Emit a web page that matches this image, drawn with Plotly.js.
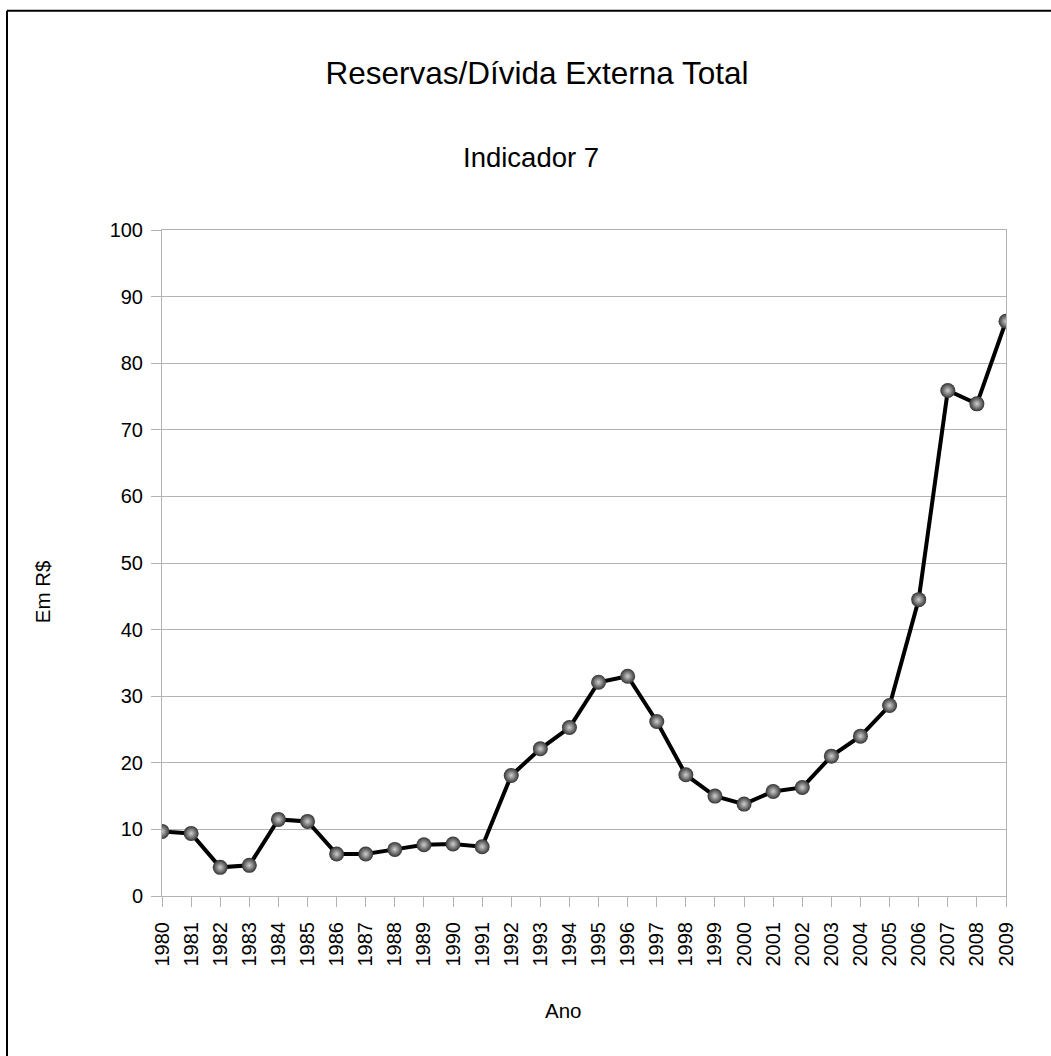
<!DOCTYPE html>
<html>
<head>
<meta charset="utf-8">
<script src="https://cdn.plot.ly/plotly-3.0.1.min.js"></script>
<style>
  html, body { margin: 0; padding: 0; background: #ffffff; }
  #chart { width: 1051px; height: 1056px; }
</style>
</head>
<body>
<div id="chart"></div>
<script>
// Indicador 7 – Reservas / Dívida Externa Total, 1980–2009
const anos = ['1980','1981','1982','1983','1984','1985','1986','1987','1988','1989',
              '1990','1991','1992','1993','1994','1995','1996','1997','1998','1999',
              '2000','2001','2002','2003','2004','2005','2006','2007','2008','2009'];
const valores = [9.7, 9.4, 4.3, 4.6, 11.5, 11.2, 6.3, 6.3, 7.0, 7.7,
                 7.8, 7.4, 18.1, 22.1, 25.3, 32.1, 33.0, 26.2, 18.2, 15.0,
                 13.8, 15.7, 16.3, 21.0, 24.0, 28.6, 44.5, 75.9, 73.9, 86.3];
const yTicks = [0, 10, 20, 30, 40, 50, 60, 70, 80, 90, 100];

const fonte = 'Liberation Sans, Arial, sans-serif';
const cinzaGrade = '#b3b3b3';

const serie = {
  x: anos,
  y: valores,
  type: 'scatter',
  mode: 'lines+markers',
  line: { color: '#000000', width: 4 },
  marker: {
    size: 15,
    color: '#333333',
    gradient: { type: 'radial', color: '#cfcfcf' },
    line: { width: 0 }
  },
  hoverinfo: 'x+y'
};

const layout = {
  width: 1051,
  height: 1056,
  margin: { l: 162, r: 45, t: 230, b: 160, pad: 0 },
  paper_bgcolor: '#ffffff',
  plot_bgcolor: '#ffffff',
  showlegend: false,
  font: { family: fonte, color: '#000000', size: 20 },
  title: {
    text: 'Reservas/Dívida Externa Total',
    font: { family: fonte, size: 31.5, color: '#000000' },
    xref: 'container', x: 537 / 1051, xanchor: 'center',
    yref: 'container', y: 1 - 73 / 1056, yanchor: 'middle'
  },
  xaxis: {
    type: 'category',
    range: [0, anos.length - 1],
    tickangle: -90,
    ticks: 'outside', ticklen: 10, tickcolor: cinzaGrade, tickwidth: 1,
    ticklabelstandoff: 7,
    showgrid: false,
    showline: true, linecolor: cinzaGrade, linewidth: 1, mirror: true,
    tickfont: { family: fonte, size: 20, color: '#000000' },
    zeroline: false,
    fixedrange: true
  },
  yaxis: {
    range: [0, 100],
    tickvals: yTicks,
    ticktext: yTicks.map(String),
    ticks: 'outside', ticklen: 10, tickcolor: cinzaGrade, tickwidth: 1,
    ticklabelstandoff: 4,
    showgrid: true, gridcolor: cinzaGrade, gridwidth: 1,
    showline: true, linecolor: cinzaGrade, linewidth: 1, mirror: true,
    tickfont: { family: fonte, size: 20, color: '#000000' },
    zeroline: false,
    fixedrange: true
  },
  annotations: [
    {
      text: 'Indicador 7',
      xref: 'paper', yref: 'paper',
      x: (531 - 162) / 844, y: (895.6 - 158) / 665.6,
      xanchor: 'center', yanchor: 'middle',
      showarrow: false,
      font: { family: fonte, size: 27.5, color: '#000000' }
    },
    {
      text: 'Ano',
      xref: 'paper', yref: 'paper',
      x: (563 - 162) / 844, y: (895.6 - 1010) / 665.6,
      xanchor: 'center', yanchor: 'middle',
      showarrow: false,
      font: { family: fonte, size: 20.5, color: '#000000' }
    },
    {
      text: 'Em R$',
      xref: 'paper', yref: 'paper',
      x: (42 - 162) / 844, y: (895.6 - 592) / 665.6,
      xanchor: 'center', yanchor: 'middle',
      textangle: -90,
      showarrow: false,
      font: { family: fonte, size: 20.5, color: '#000000' }
    }
  ],
  shapes: [
    // outer frame edges (left and top)
    { type: 'line', xref: 'paper', yref: 'paper',
      x0: (7 - 162) / 844, x1: (7 - 162) / 844,
      y0: (895.6 - 11) / 665.6, y1: (895.6 - 1056) / 665.6,
      line: { color: '#000000', width: 2 } },
    { type: 'line', xref: 'paper', yref: 'paper',
      x0: (7 - 162) / 844, x1: (1051 - 162) / 844,
      y0: (895.6 - 11) / 665.6, y1: (895.6 - 11) / 665.6,
      line: { color: '#000000', width: 2 } }
  ]
};

Plotly.newPlot('chart', [serie], layout, { displayModeBar: false, staticPlot: true });
</script>
</body>
</html>
